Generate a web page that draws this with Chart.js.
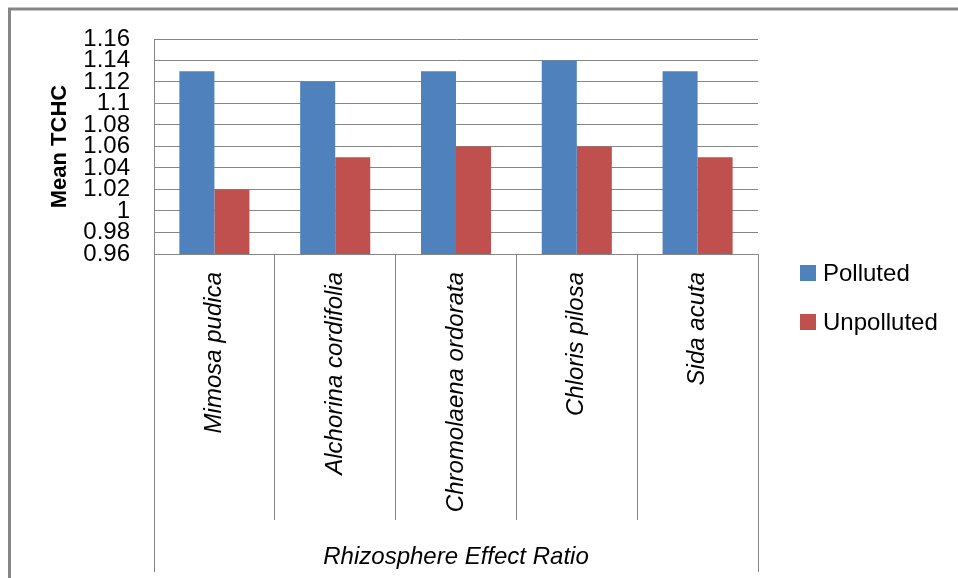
<!DOCTYPE html>
<html>
<head>
<meta charset="utf-8">
<script src="https://cdn.jsdelivr.net/npm/chart.js@4"></script>
<style>
  html, body { margin: 0; padding: 0; background: #ffffff; }
  #wrap { width: 958px; height: 578px; }
</style>
</head>
<body>
<div id="wrap"><canvas id="chart" width="958" height="578"></canvas></div>
<script>
// Plant species (categories)
const categories = ['Mimosa pudica', 'Alchorina cordifolia', 'Chromolaena ordorata', 'Chloris pilosa', 'Sida acuta'];
// Mean TCHC per species
const polluted = [1.13, 1.12, 1.13, 1.14, 1.13];
const unpolluted = [1.02, 1.05, 1.06, 1.06, 1.05];
// Value axis ticks
const yTickValues = [0.96, 0.98, 1.00, 1.02, 1.04, 1.06, 1.08, 1.10, 1.12, 1.14, 1.16];
const seriesNames = ['Polluted', 'Unpolluted'];
const xTitle = 'Rhizosphere Effect Ratio';
const yTitle = 'Mean TCHC';

const FONT = "'Liberation Sans', Arial, sans-serif";
const LINE = '#868686';

// White page, frame lines on the left and top edges
const framePlugin = {
  id: 'frame',
  beforeDraw(chart) {
    const ctx = chart.ctx;
    ctx.save();
    ctx.fillStyle = '#ffffff';
    ctx.fillRect(0, 0, chart.width, chart.height);
    ctx.strokeStyle = LINE;
    ctx.lineWidth = 3;
    ctx.beginPath();
    ctx.moveTo(9.5, chart.height);
    ctx.lineTo(9.5, 9);
    ctx.lineTo(chart.width, 9);
    ctx.stroke();
    ctx.restore();
  },
  afterDraw(chart) {
    // outer edges of the category box, down to the axis title band
    const xs = chart.scales.x;
    const ctx = chart.ctx;
    ctx.save();
    ctx.strokeStyle = LINE;
    ctx.lineWidth = 1;
    ctx.beginPath();
    [xs.left, xs.right].forEach(px => {
      const p = Math.round(px) + 0.5;
      ctx.moveTo(p, xs.top);
      ctx.lineTo(p, chart.height - 6);
    });
    ctx.stroke();

    // legend on the right
    ctx.font = '24px ' + FONT;
    ctx.textBaseline = 'middle';
    ctx.textAlign = 'left';
    chart.data.datasets.forEach((ds, i) => {
      const top = 265 + i * 49;
      ctx.fillStyle = ds.backgroundColor;
      ctx.fillRect(800, top, 16, 16);
      ctx.fillStyle = '#000000';
      ctx.fillText(ds.label, 823, top + 9);
    });
    ctx.restore();
  }
};

new Chart(document.getElementById('chart'), {
  type: 'bar',
  data: {
    labels: categories,
    datasets: [
      { label: seriesNames[0], data: polluted, backgroundColor: '#4F81BD', borderWidth: 0 },
      { label: seriesNames[1], data: unpolluted, backgroundColor: '#C0504D', borderWidth: 0 }
    ]
  },
  options: {
    responsive: false,
    animation: false,
    devicePixelRatio: 1,
    categoryPercentage: 0.58,
    barPercentage: 1.0,
    layout: { padding: { left: 0, top: 39, right: 200, bottom: 0 } },
    plugins: {
      legend: { display: false },
      tooltip: { enabled: false }
    },
    scales: {
      x: {
        grid: { offset: true, drawOnChartArea: false, drawTicks: true, tickLength: 266, color: LINE, lineWidth: 1 },
        border: { display: true, color: LINE, width: 1 },
        ticks: {
          autoSkip: false, maxRotation: 90, minRotation: 90, padding: -248,
          color: '#000000', font: { family: FONT, size: 24, style: 'italic' }
        },
        title: {
          display: true, text: xTitle, color: '#000000',
          font: { family: FONT, size: 24, style: 'italic' },
          padding: { top: 0, bottom: 6 }
        },
        afterFit(s) { s.height = 324; }
      },
      y: {
        min: 0.96,
        max: 1.16,
        afterBuildTicks(s) { s.ticks = yTickValues.map(v => ({ value: v })); },
        grid: { color: LINE, lineWidth: 1, drawTicks: false },
        border: { display: true, color: LINE, width: 1 },
        ticks: {
          autoSkip: false, padding: 24, color: '#000000',
          font: { family: FONT, size: 24 },
          callback: (v) => String(Number(v.toFixed(2)))
        },
        title: {
          display: true, text: yTitle, color: '#000000',
          font: { family: FONT, size: 22, weight: 'bold' },
          padding: { top: 47, bottom: 0 }
        },
        afterFit(s) { s.width = 154; }
      }
    }
  },
  plugins: [framePlugin]
});
</script>
</body>
</html>
